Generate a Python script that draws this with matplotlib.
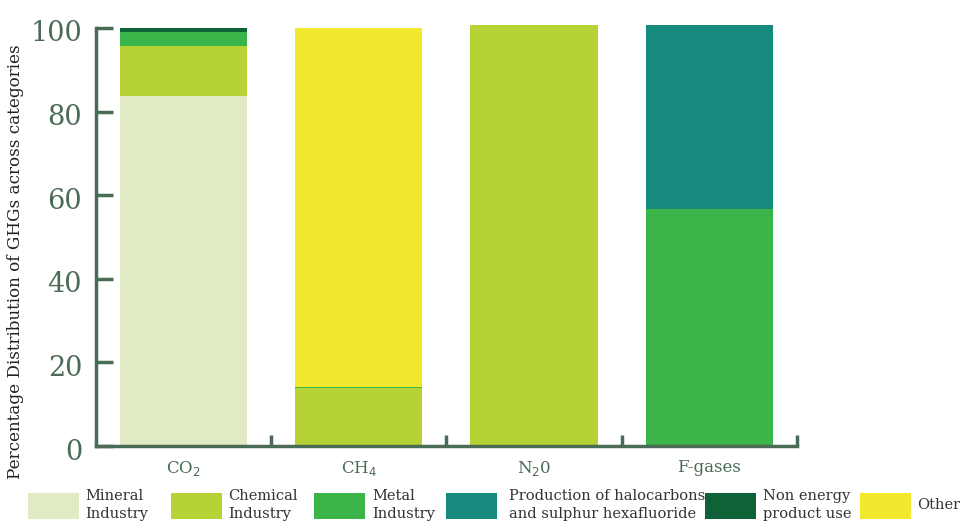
import numpy as np
import matplotlib.pyplot as plt
from matplotlib.patches import Rectangle
from matplotlib.transforms import ScaledTranslation

# GHG categories (x axis) and share of each source category (percent)
gases = ['CO$_2$', 'CH$_4$', 'N$_2$0', 'F-gases']
sources = ['Mineral\nIndustry', 'Chemical\nIndustry', 'Metal\nIndustry',
           'Production of halocarbons\nand sulphur hexafluoride',
           'Non energy\nproduct use', 'Other']
mineral = [83.7, 0.0, 0.0, 0.0]
chemical = [12.0, 13.9, 100.7, 0.0]
metal = [3.3, 0.3, 0.0, 56.7]
halocarbons = [0.0, 0.0, 0.0, 44.0]
non_energy = [1.0, 0.0, 0.0, 0.0]
other = [0.0, 85.8, 0.0, 0.0]

colors = ['#e0ebc4', '#b5d334', '#3bb54a', '#178a7e', '#0d6337', '#f2e92e']
axis_col = '#4a6b55'

plt.rcParams['font.family'] = ['DejaVu Serif']

W, H = 960, 523
fig = plt.figure(figsize=(9.6, 5.23), dpi=100)
ax = fig.add_axes([0.1, 0.1472, 0.73, 0.8073])

x = np.arange(len(gases))
bottom = np.zeros(len(gases))
for vals, c in zip([mineral, chemical, metal, halocarbons, non_energy, other], colors):
    ax.bar(x, vals, width=0.725, bottom=bottom, color=c, linewidth=0)
    bottom += np.array(vals)

ax.set_xlim(-0.5, 3.5)
ax.set_ylim(0, 101)

for s in ['top', 'right']:
    ax.spines[s].set_visible(False)
for s in ['left', 'bottom']:
    ax.spines[s].set_color(axis_col)
    ax.spines[s].set_linewidth(2.5)
ax.spines['left'].set_bounds(0, 100)
ax.spines['bottom'].set_bounds(-0.5, 3.5)

ax.set_yticks([0, 20, 40, 60, 80, 100])
ax.tick_params(axis='y', direction='in', length=12, width=2.5, color=axis_col,
               labelcolor=axis_col, labelsize=19.5, pad=10)
# labels sit a little below their ticks in the original
shift = ScaledTranslation(0, -3 / 100, fig.dpi_scale_trans)
for lab in ax.get_yticklabels():
    lab.set_transform(lab.get_transform() + shift)

ax.set_xticks(x)
ax.set_xticklabels(gases)
ax.tick_params(axis='x', length=0, labelcolor=axis_col, labelsize=12, pad=9)
ax.set_xticks([0.5, 1.5, 2.5, 3.5], minor=True)
ax.tick_params(axis='x', which='minor', direction='in', length=8, width=2.5, color=axis_col)

fig.text(0.016, 0.5, 'Percentage Distribution of GHGs across categories',
         rotation=90, ha='center', va='center', fontsize=12.1, color='#222222')

# legend drawn by hand so the uneven spacing of the original is kept (pixel positions)
patch_x = [28, 171, 314, 446, 705, 860]
text_x = [85, 228, 372, 509, 763, 917]
for px, tx, c, lab in zip(patch_x, text_x, colors, sources):
    fig.add_artist(Rectangle((px / W, 1 - 519 / H), 51 / W, 26 / H,
                             transform=fig.transFigure, facecolor=c, edgecolor='none'))
    fig.text(tx / W, 1 - 505 / H, lab, ha='left', va='center', fontsize=10.5,
             color='#333333', linespacing=1.3)

fig.savefig('out.png', dpi=100)
